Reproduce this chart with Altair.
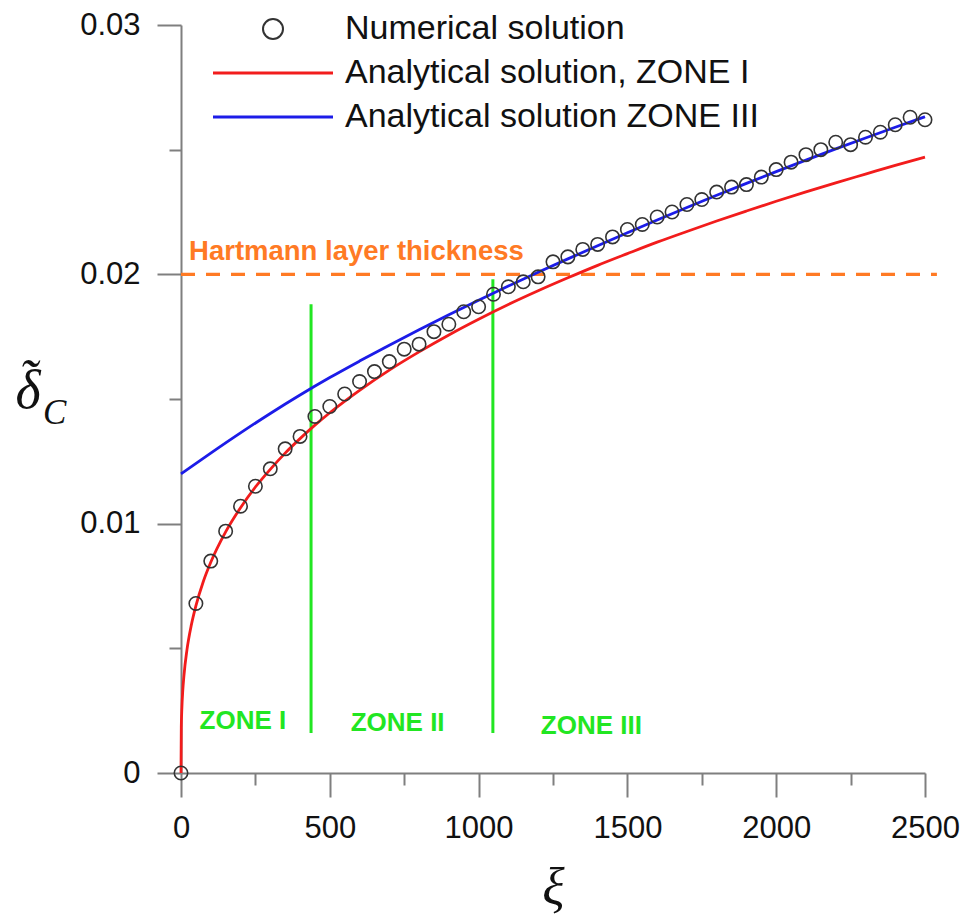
import altair as alt
import pandas as pd

# ---------------- data ----------------
num_xi = [0, 50, 100, 150, 200, 250, 300, 350, 400, 450, 500, 550, 600, 650, 700,
          750, 800, 850, 900, 950, 1000, 1050, 1100, 1150, 1200, 1250, 1300, 1350,
          1400, 1450, 1500, 1550, 1600, 1650, 1700, 1750, 1800, 1850, 1900, 1950,
          2000, 2050, 2100, 2150, 2200, 2250, 2300, 2350, 2400, 2450, 2500]
num_delta = [0.0, 0.0068, 0.0085, 0.0097, 0.0107, 0.0115, 0.0122, 0.0130, 0.0135,
             0.0143, 0.0147, 0.0152, 0.0157, 0.0161, 0.0165, 0.0170, 0.0172, 0.0177,
             0.0180, 0.0185, 0.0187, 0.0192, 0.0195, 0.0197, 0.0199, 0.0205, 0.0207,
             0.0210, 0.0212, 0.0215, 0.0218, 0.0220, 0.0223, 0.0225, 0.0228, 0.0230,
             0.0233, 0.0235, 0.0236, 0.0239, 0.0242, 0.0245, 0.0248, 0.0250, 0.0253,
             0.0252, 0.0255, 0.0257, 0.0260, 0.0263, 0.0262]

zone1_xi = [0, 1, 3, 6, 10, 20, 35, 50, 75, 100, 150, 200, 250, 300, 350, 400, 450,
            500, 600, 700, 800, 900, 1000, 1100, 1200, 1300, 1400, 1500, 1600, 1700,
            1800, 1900, 2000, 2100, 2200, 2300, 2400, 2500]
zone1_delta = [0.0, 0.00182, 0.00262, 0.00331, 0.00392, 0.00494, 0.00595, 0.00670,
               0.00768, 0.00845, 0.00967, 0.01064, 0.01147, 0.01218, 0.01283, 0.01341,
               0.01395, 0.01445, 0.01535, 0.01616, 0.01689, 0.01757, 0.01820, 0.01879,
               0.01934, 0.01986, 0.02036, 0.02083, 0.02129, 0.02172, 0.02214, 0.02254,
               0.02293, 0.02331, 0.02367, 0.02402, 0.02437, 0.02470]

zone3_xi = [0, 100, 200, 300, 400, 500, 600, 700, 800, 900, 1000, 1100, 1200, 1300,
            1400, 1500, 1600, 1700, 1800, 1900, 2000, 2100, 2200, 2300, 2400, 2500]
zone3_delta = [0.01200, 0.01283, 0.01364, 0.01442, 0.01516, 0.01586, 0.01652, 0.01716,
               0.01778, 0.01838, 0.01896, 0.01953, 0.02008, 0.02062, 0.02115, 0.02167,
               0.02218, 0.02268, 0.02317, 0.02365, 0.02412, 0.02458, 0.02503, 0.02547,
               0.02590, 0.02632]

series_names = ["Numerical solution", "Analytical solution, ZONE I",
                "Analytical solution ZONE III"]

hart_xi = [0, 2540]
hart_delta = [0.02, 0.02]
hart_label = ["Hartmann layer thickness"]
hart_label_xi = [27]
hart_label_delta = [0.0209]

zone_line_xi = [437, 1048]
zone_line_lo = [0.0016, 0.0016]
zone_line_hi = [0.0188, 0.0198]

zone_names = ["ZONE I", "ZONE II", "ZONE III"]
zone_name_xi = [208, 728, 1379]
zone_name_delta = [0.0021, 0.0020, 0.0019]

x_tick_values = [0, 250, 500, 750, 1000, 1250, 1500, 1750, 2000, 2250, 2500]
y_tick_values = [0, 0.005, 0.01, 0.015, 0.02, 0.025, 0.03]

# ---------------- styles ----------------
RED = "#f21c1c"
BLUE = "#1c1ce8"
GREEN = "#22e622"
ORANGE = "#ff7a24"
AXIS_GREY = "#7f7f7f"
FONT = "Liberation Sans"
SERIF = "Liberation Serif"
LEG_FS = 34

xs = alt.Scale(domain=[0, 2500], nice=False, zero=False)
ys = alt.Scale(domain=[0, 0.03], nice=False, zero=False)

x_axis = alt.Axis(
    values=x_tick_values,
    labelExpr="datum.value % 500 === 0 ? format(datum.value, 'd') : ''",
    tickSize={"condition": {"test": "datum.value % 500 === 0", "value": 24}, "value": 12},
    tickWidth=2, tickColor=AXIS_GREY, domainColor=AXIS_GREY, domainWidth=2,
    labelFont=FONT, labelFontSize=31, labelColor="#111111", labelPadding=16,
    labelOverlap=False, labelFlush=False, labelBound=False, grid=False,
    title="ξ", titleFont=SERIF, titleFontStyle="italic", titleFontWeight="normal",
    titleFontSize=52, titleColor="#111111", titlePadding=19,
)
y_axis = alt.Axis(
    values=y_tick_values,
    labelExpr="round(datum.value * 1000) % 10 === 0 ? (datum.value === 0 ? '0' : format(datum.value, '.2f')) : ''",
    tickSize={"condition": {"test": "round(datum.value * 1000) % 10 === 0", "value": 24}, "value": 12},
    tickWidth=2, tickColor=AXIS_GREY, domainColor=AXIS_GREY, domainWidth=2,
    labelFont=FONT, labelFontSize=31, labelColor="#111111", labelPadding=17,
    labelOverlap=False, labelFlush=False, labelBound=False, grid=False,
    title=None,
)


def X(field="xi"):
    return alt.X(f"{field}:Q", scale=xs, axis=x_axis)


def Y(field="delta"):
    return alt.Y(f"{field}:Q", scale=ys, axis=y_axis)


# ---------------- tables ----------------
num_df = pd.DataFrame({"xi": num_xi, "delta": num_delta, "kind": series_names[0]})
an_df = pd.concat([
    pd.DataFrame({"xi": zone1_xi, "delta": zone1_delta, "series": series_names[1]}),
    pd.DataFrame({"xi": zone3_xi, "delta": zone3_delta, "series": series_names[2]}),
])
hart_df = pd.DataFrame({"xi": hart_xi, "delta": hart_delta})
hart_lab_df = pd.DataFrame({"xi": hart_label_xi, "delta": hart_label_delta, "t": hart_label})
zone_line_df = pd.DataFrame({"xi": zone_line_xi, "delta": zone_line_lo, "delta2": zone_line_hi})
zone_name_df = pd.DataFrame({"xi": zone_name_xi, "delta": zone_name_delta, "t": zone_names})

# ---------------- layers ----------------
hart = alt.Chart(hart_df).mark_line(
    color=ORANGE, strokeWidth=3.2, strokeDash=[14, 11]
).encode(x=X(), y=Y())

hart_text = alt.Chart(hart_lab_df).mark_text(
    align="left", baseline="middle", font=FONT, fontSize=27.5, fontWeight="bold", color=ORANGE
).encode(x=X(), y=Y(), text="t:N")

zone_lines = alt.Chart(zone_line_df).mark_rule(color=GREEN, strokeWidth=3).encode(
    x=X(), y=Y(), y2="delta2:Q"
)

zone_text = alt.Chart(zone_name_df).mark_text(
    align="center", baseline="middle", font=FONT, fontSize=26, fontWeight="bold", color=GREEN
).encode(x=X(), y=Y(), text="t:N")

lines = alt.Chart(an_df).mark_line(strokeWidth=2.8, interpolate="monotone").encode(
    x=X(), y=Y(),
    color=alt.Color(
        "series:N",
        scale=alt.Scale(domain=series_names[1:], range=[RED, BLUE]),
        legend=alt.Legend(
            title=None, orient="none", legendX=30.5, legendY=31,
            symbolType="stroke", symbolSize=14400, symbolStrokeWidth=3,
            labelFont=FONT, labelFontSize=LEG_FS, labelColor="#111111",
            labelOffset=10.5, rowPadding=10, clipHeight=34, padding=0, labelLimit=700,
        ),
    ),
)

points = alt.Chart(num_df).mark_point(
    filled=False, size=180, strokeWidth=1.6, color="#333333", opacity=1
).encode(
    x=X(), y=Y(),
    shape=alt.Shape(
        "kind:N",
        scale=alt.Scale(domain=series_names[:1], range=["circle"]),
        legend=alt.Legend(
            title=None, orient="none", legendX=75, legendY=-13,
            symbolType="circle", symbolSize=400, symbolStrokeWidth=2,
            symbolStrokeColor="#333333", symbolFillColor="transparent",
            labelFont=FONT, labelFontSize=LEG_FS, labelColor="#111111",
            labelOffset=55, padding=0, labelLimit=700,
        ),
    ),
)

# y-axis title: tilde over delta (two lines of one text), and subscript C
ytitle_df = pd.DataFrame({"t": ["\u02dc\nδ"]})
sub_df = pd.DataFrame({"t": ["C"]})
y_delta = alt.Chart(ytitle_df).mark_text(
    font=SERIF, fontStyle="italic", fontSize=54, align="center", baseline="alphabetic",
    color="#111111", lineBreak="\n", lineHeight=11,
).encode(x=alt.value(-153), y=alt.value(372), text="t:N")
y_sub = alt.Chart(sub_df).mark_text(
    font=SERIF, fontStyle="italic", fontSize=35, align="left", baseline="alphabetic", color="#111111"
).encode(x=alt.value(-138), y=alt.value(399), text="t:N")

chart = alt.layer(
    hart, hart_text, zone_lines, zone_text, lines, points, y_delta, y_sub
).properties(
    width=744, height=748,
    padding={"left": 181, "top": 25, "right": 44, "bottom": 141},
    autosize=alt.AutoSizeParams(type="none"),
    background="white",
).configure_view(stroke=None)

chart.save("out.html", embed_options={"renderer": "svg", "actions": False})
